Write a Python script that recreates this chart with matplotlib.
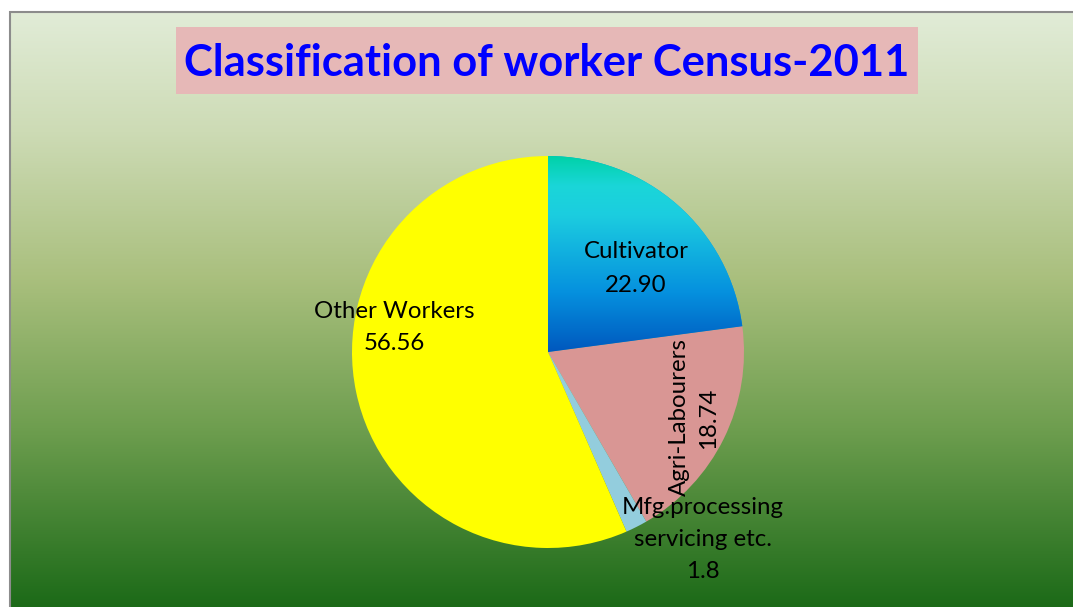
import numpy as np
import matplotlib
matplotlib.use("Agg")
import matplotlib.pyplot as plt
from matplotlib.colors import LinearSegmentedColormap
from matplotlib.patches import Rectangle

categories = ["Cultivator", "Agri-Labourers", "Mfg.processing\nservicing etc.", "Other Workers"]
values = [22.90, 18.74, 1.8, 56.56]
value_labels = ["22.90", "18.74", "1.8", "56.56"]
colors = ["#0a9ee0", "#d99694", "#93cddd", "#ffff00"]
title = "Classification of worker Census-2011"

W, H = 1073, 607
fig = plt.figure(figsize=(W / 100, H / 100), dpi=100)
ax = fig.add_axes([0, 0, 1, 1])
ax.set_xlim(0, W)
ax.set_ylim(0, H)
ax.axis("off")

# background gradient (frame from x=10, top at y=12 from top)
bg = LinearSegmentedColormap.from_list("bg", [
    (0.0, "#e1ecd7"), (0.2, "#cddbb5"), (0.45, "#a9bf7d"),
    (0.7, "#6e9e4f"), (1.0, "#1c6a18")])
grad = np.linspace(0, 1, 256).reshape(-1, 1)
ax.imshow(grad, cmap=bg, aspect="auto", extent=[10, W + 2, 0, H - 12],
          origin="upper", zorder=0)
ax.add_patch(Rectangle((10, -2), W, H - 10, fill=False, edgecolor="#8c8c8c",
                       linewidth=1.5, zorder=1))

# title
ax.add_patch(Rectangle((176, H - 94), 742, 67, facecolor="#e6b8b7",
                       edgecolor="none", zorder=2))
ax.text(547, H - 63, title, ha="center", va="center", fontsize=31.3,
        fontweight="bold", color="#0000ff", family="Lato", zorder=3)

# pie
cx, cy, r = 548, H - 352, 196
wedges, _ = ax.pie(values, colors=colors, startangle=90, counterclock=False,
                   center=(cx, cy), radius=r, frame=True,
                   wedgeprops=dict(linewidth=0, zorder=4))
ax.set_xlim(0, W)
ax.set_ylim(0, H)
ax.axis("off")
ax.set_aspect("auto")

# gradient fill in the Cultivator wedge
cult = LinearSegmentedColormap.from_list("cult", [
    (0.0, "#00d2a8"), (0.15, "#1ad6d8"), (0.3, "#1ccde0"),
    (0.7, "#0590de"), (1.0, "#0058be")])
im = ax.imshow(np.linspace(0, 1, 256).reshape(-1, 1), cmap=cult, aspect="auto",
               extent=[cx, cx + r, cy, cy + r], origin="upper", zorder=5)
im.set_clip_path(wedges[0])

fs = 17.3
fam = "Lato"
ax.text(636, H - 252, categories[0], ha="center", va="center", fontsize=fs, family=fam, zorder=6)
ax.text(636, H - 285, value_labels[0], ha="center", va="center", fontsize=fs, family=fam, zorder=6)
ax.text(394, H - 312, categories[3], ha="center", va="center", fontsize=fs, family=fam, zorder=6)
ax.text(394, H - 343, value_labels[3], ha="center", va="center", fontsize=fs, family=fam, zorder=6)
ax.text(679, H - 417, categories[1], ha="center", va="center", fontsize=fs, family=fam,
        rotation=90, zorder=6)
ax.text(709, H - 418, value_labels[1], ha="center", va="center", fontsize=fs, family=fam,
        rotation=90, zorder=6)
mfg = categories[2].split("\n")
ax.text(703, H - 507, mfg[0], ha="center", va="center", fontsize=fs, family=fam, zorder=6)
ax.text(703, H - 540, mfg[1], ha="center", va="center", fontsize=fs, family=fam, zorder=6)
ax.text(703, H - 572, value_labels[2], ha="center", va="center", fontsize=fs, family=fam, zorder=6)

fig.savefig("out.png", dpi=100, facecolor="white")
